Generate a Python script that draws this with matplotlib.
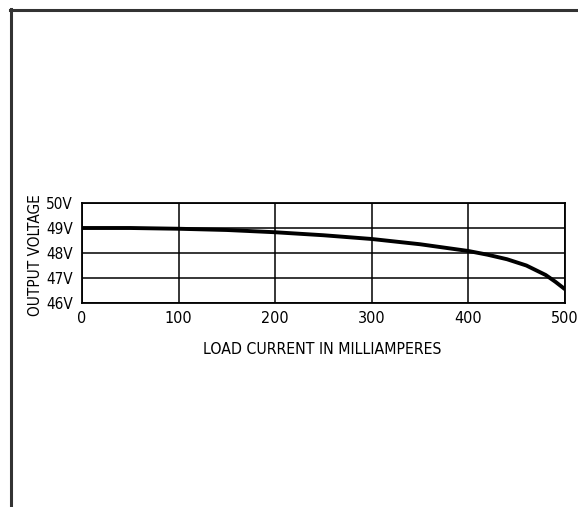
import matplotlib
matplotlib.use("Agg")
import matplotlib.pyplot as plt
from matplotlib.lines import Line2D

plt.rcParams['font.family'] = ['DejaVu Sans', 'Liberation Sans']
plt.rcParams['font.stretch'] = 'condensed'

current_ma = [0, 50, 100, 150, 200, 250, 300, 350, 400, 420, 440, 460, 480, 490, 500]
voltage_v = [49.0, 49.0, 48.97, 48.92, 48.83, 48.71, 48.56, 48.35, 48.08, 47.93, 47.75, 47.5, 47.12, 46.85, 46.55]

x_ticks = [0, 100, 200, 300, 400, 500]
x_tick_labels = ["0", "100", "200", "300", "400", "500"]
y_ticks = [46, 47, 48, 49, 50]
y_tick_labels = ["46V", "47V", "48V", "49V", "50V"]

fig = plt.figure(figsize=(5.78, 5.07), dpi=100)
ax = fig.add_axes([82/578, 1 - 303/507, 483/578, 100/507])

ax.plot(current_ma, voltage_v, color='black', linewidth=2.8, solid_capstyle='butt')
ax.set_xlim(0, 500)
ax.set_ylim(46, 50)
ax.set_xticks(x_ticks)
ax.set_xticklabels(x_tick_labels, fontsize=11.5)
ax.set_yticks(y_ticks)
ax.set_yticklabels(y_tick_labels, fontsize=11)
ax.tick_params(axis='x', length=0, pad=6)
ax.tick_params(axis='y', length=0, pad=6.5)
ax.grid(True, color='black', linewidth=1.1)
for s in ax.spines.values():
    s.set_linewidth(1.3)
ax.set_xlabel("LOAD CURRENT IN MILLIAMPERES", fontsize=11.3)
ax.xaxis.set_label_coords((322 - 82) / 483, (303 - 342) / 100)
ax.set_ylabel("OUTPUT VOLTAGE", fontsize=11, va='center')
ax.yaxis.set_label_coords((35 - 82) / 483, 0.48)

# outer frame
fig.add_artist(Line2D([11/578, 11/578], [0, 1 - 9/507], transform=fig.transFigure, color='#333333', linewidth=2.2))
fig.add_artist(Line2D([10/578, 1], [1 - 10/507, 1 - 10/507], transform=fig.transFigure, color='#333333', linewidth=2.2))

fig.savefig("out.png", dpi=100, facecolor='white')
